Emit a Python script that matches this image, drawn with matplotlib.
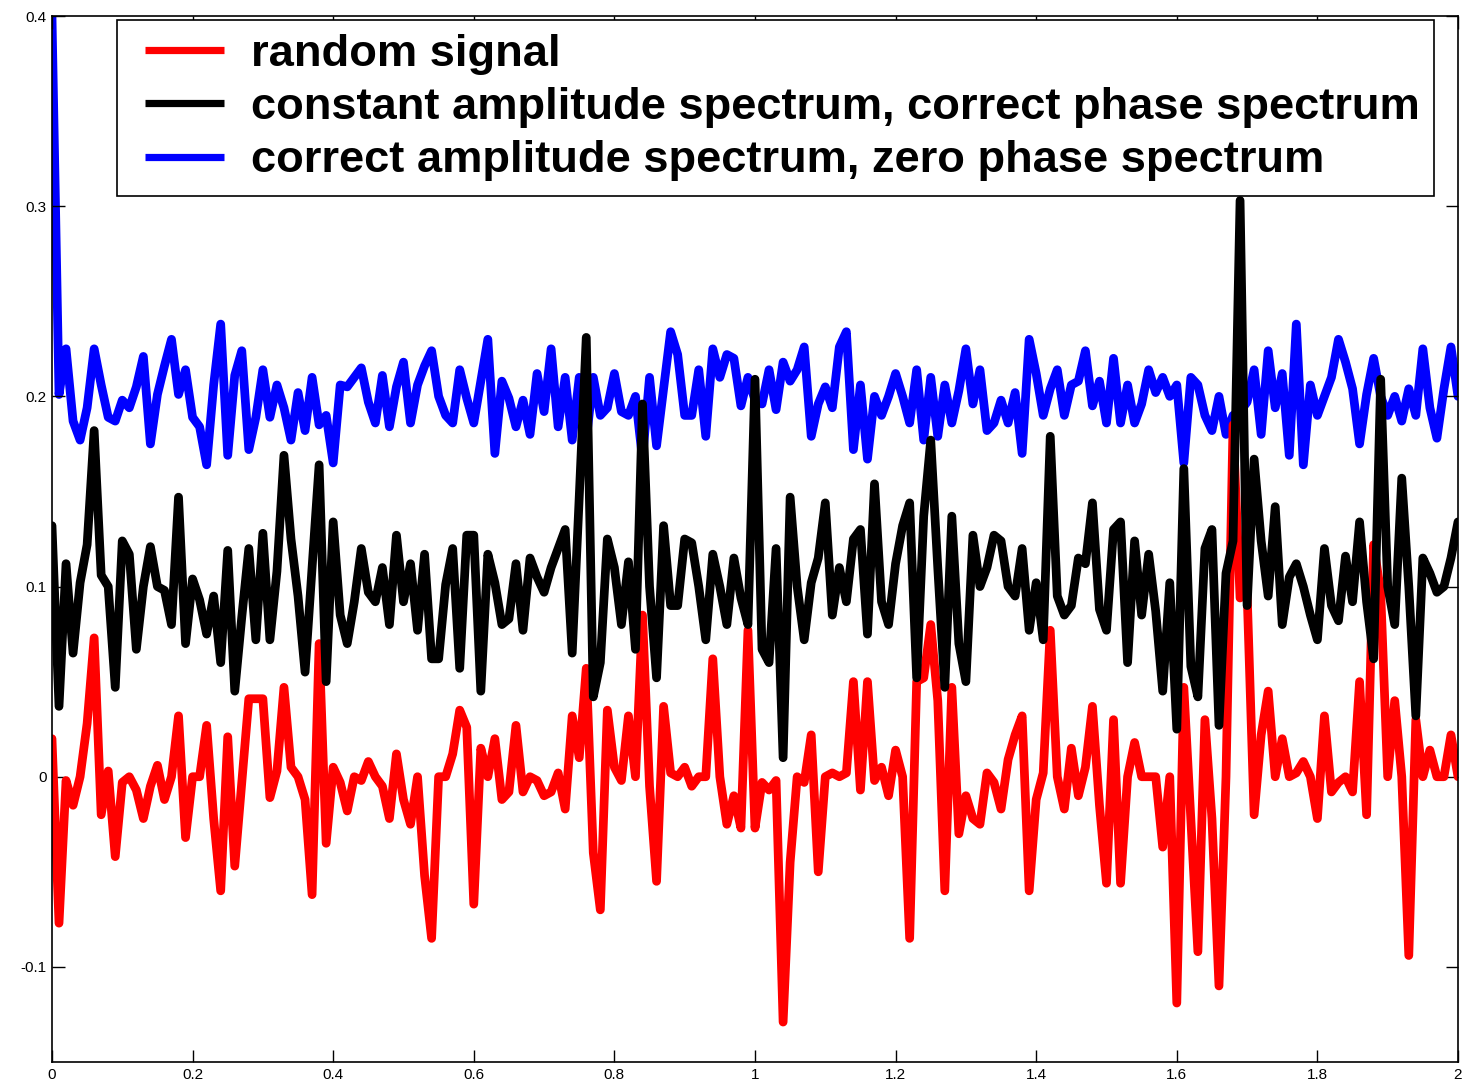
import numpy as np
import matplotlib
matplotlib.use("Agg")
import matplotlib.pyplot as plt
from matplotlib.lines import Line2D
from matplotlib.legend_handler import HandlerLine2D

plt.rcParams['font.family'] = ['Liberation Sans', 'DejaVu Sans']

# values, one sample every 0.01 s from 0 to 2
random_signal = [
    0.02, -0.077, -0.002, -0.015, 0.0, 0.028, 0.073, -0.02, 0.003, -0.042,
    -0.003, 0.0, -0.007, -0.022, -0.005, 0.006, -0.012, 0.0, 0.032, -0.032,
    0.0, 0.0, 0.027, -0.022, -0.06, 0.021, -0.047, -0.003, 0.041, 0.041,
    0.041, -0.011, 0.003, 0.047, 0.005, 0.0, -0.012, -0.062, 0.07, -0.035,
    0.005, -0.003, -0.018, 0.0, -0.002, 0.008, 0.0, -0.005, -0.022, 0.012,
    -0.012, -0.025, 0.0, -0.052, -0.085, 0.0, 0.0, 0.012, 0.035, 0.026,
    -0.067, 0.015, 0.0, 0.02, -0.012, -0.008, 0.027, -0.008, 0.0, -0.002,
    -0.01, -0.008, 0.002, -0.017, 0.032, 0.01, 0.057, -0.04, -0.07, 0.035,
    0.005, -0.002, 0.032, 0.0, 0.085, -0.005, -0.055, 0.037, 0.002, 0.0,
    0.005, -0.005, 0.0, 0.0, 0.062, 0.0, -0.025, -0.01, -0.027, 0.077,
    -0.027, -0.003, -0.007, -0.002, -0.129, -0.045, 0.0, -0.003, 0.022, -0.05,
    0.0, 0.002, 0.0, 0.002, 0.05, -0.007, 0.05, -0.002, 0.005, -0.01,
    0.014, 0.0, -0.085, 0.05, 0.052, 0.08, 0.04, -0.06, 0.047, -0.03,
    -0.01, -0.022, -0.025, 0.002, -0.003, -0.017, 0.009, 0.022, 0.032, -0.06,
    -0.012, 0.002, 0.077, 0.0, -0.017, 0.015, -0.01, 0.005, 0.037, -0.015,
    -0.056, 0.03, -0.056, 0.0, 0.018, 0.0, 0.0, 0.0, -0.037, 0.0,
    -0.119, 0.047, -0.022, -0.092, 0.03, -0.022, -0.11, 0.0, 0.185, 0.094,
    0.097, -0.02, 0.022, 0.045, 0.0, 0.02, 0.0, 0.002, 0.008, 0.0,
    -0.022, 0.032, -0.008, -0.003, 0.0, -0.008, 0.05, -0.02, 0.122, 0.097,
    0.0, 0.04, 0.0, -0.094, 0.03, 0.0, 0.014, 0.0, 0.0, 0.022,
    0.0,
]

const_amp = [
    0.132, 0.037, 0.112, 0.065, 0.102, 0.122, 0.182, 0.106, 0.10, 0.047,
    0.124, 0.117, 0.067, 0.10, 0.121, 0.10, 0.098, 0.080, 0.147, 0.07,
    0.104, 0.093, 0.075, 0.095, 0.060, 0.119, 0.045, 0.084, 0.12, 0.072,
    0.128, 0.072, 0.108, 0.169, 0.125, 0.095, 0.055, 0.11, 0.164, 0.05,
    0.134, 0.085, 0.07, 0.092, 0.12, 0.097, 0.092, 0.11, 0.08, 0.127,
    0.092, 0.112, 0.077, 0.117, 0.062, 0.062, 0.101, 0.12, 0.057, 0.127,
    0.127, 0.045, 0.117, 0.102, 0.08, 0.083, 0.112, 0.077, 0.115, 0.105,
    0.097, 0.11, 0.12, 0.13, 0.065, 0.147, 0.231, 0.042, 0.06, 0.125,
    0.11, 0.08, 0.113, 0.067, 0.196, 0.1, 0.052, 0.132, 0.09, 0.09,
    0.125, 0.123, 0.1, 0.072, 0.117, 0.1, 0.08, 0.115, 0.094, 0.08,
    0.209, 0.067, 0.06, 0.12, 0.01, 0.147, 0.1, 0.072, 0.102, 0.115,
    0.144, 0.085, 0.11, 0.092, 0.125, 0.13, 0.075, 0.154, 0.092, 0.08,
    0.112, 0.132, 0.144, 0.052, 0.137, 0.177, 0.11, 0.047, 0.137, 0.07,
    0.05, 0.127, 0.1, 0.11, 0.127, 0.124, 0.1, 0.095, 0.12, 0.077,
    0.102, 0.072, 0.179, 0.095, 0.085, 0.09, 0.115, 0.112, 0.144, 0.088,
    0.077, 0.13, 0.134, 0.06, 0.124, 0.085, 0.117, 0.087, 0.045, 0.102,
    0.025, 0.162, 0.058, 0.042, 0.12, 0.13, 0.027, 0.107, 0.124, 0.303,
    0.09, 0.167, 0.124, 0.095, 0.142, 0.08, 0.105, 0.112, 0.1, 0.085,
    0.072, 0.12, 0.09, 0.082, 0.116, 0.092, 0.134, 0.092, 0.062, 0.209,
    0.1, 0.08, 0.157, 0.1, 0.032, 0.115, 0.107, 0.097, 0.1, 0.115,
    0.134,
]

zero_phase = [
    0.4, 0.201, 0.225, 0.187, 0.177, 0.194, 0.225, 0.206, 0.189, 0.187,
    0.198, 0.194, 0.205, 0.221, 0.175, 0.201, 0.216, 0.230, 0.201, 0.214,
    0.189, 0.184, 0.164, 0.206, 0.238, 0.169, 0.211, 0.224, 0.172, 0.189,
    0.214, 0.189, 0.206, 0.194, 0.177, 0.202, 0.182, 0.21, 0.185, 0.19,
    0.165, 0.206, 0.205, 0.21, 0.215, 0.197, 0.186, 0.211, 0.184, 0.205,
    0.218, 0.186, 0.206, 0.216, 0.224, 0.20, 0.19, 0.186, 0.214, 0.199,
    0.186, 0.208, 0.23, 0.17, 0.208, 0.199, 0.184, 0.198, 0.18, 0.212,
    0.192, 0.225, 0.184, 0.21, 0.177, 0.21, 0.177, 0.21, 0.19, 0.194,
    0.212, 0.192, 0.19, 0.2, 0.167, 0.21, 0.174, 0.204, 0.234, 0.222,
    0.19, 0.19, 0.214, 0.179, 0.225, 0.21, 0.222, 0.22, 0.195, 0.21,
    0.198, 0.196, 0.214, 0.193, 0.218, 0.208, 0.214, 0.226, 0.179, 0.196,
    0.205, 0.194, 0.226, 0.234, 0.172, 0.206, 0.167, 0.2, 0.19, 0.2,
    0.212, 0.2, 0.186, 0.214, 0.177, 0.21, 0.179, 0.206, 0.186, 0.203,
    0.225, 0.196, 0.214, 0.182, 0.186, 0.198, 0.186, 0.202, 0.17, 0.23,
    0.212, 0.19, 0.204, 0.214, 0.19, 0.206, 0.208, 0.224, 0.195, 0.208,
    0.186, 0.22, 0.186, 0.206, 0.186, 0.196, 0.214, 0.202, 0.21, 0.2,
    0.206, 0.165, 0.21, 0.206, 0.19, 0.182, 0.2, 0.18, 0.19, 0.192,
    0.197, 0.214, 0.18, 0.224, 0.194, 0.212, 0.169, 0.238, 0.164, 0.206,
    0.19, 0.2, 0.21, 0.23, 0.218, 0.204, 0.175, 0.201, 0.22, 0.2,
    0.19, 0.2, 0.187, 0.204, 0.19, 0.225, 0.194, 0.178, 0.204, 0.226,
    0.2,
]

labels = ["random signal",
          "constant amplitude spectrum, correct phase spectrum",
          "correct amplitude spectrum, zero phase spectrum"]

t = np.linspace(0, 2, len(random_signal))

fig = plt.figure(figsize=(14.64, 10.89), dpi=100)
ax = fig.add_axes([0.0355, 0.0248, 0.9604, 0.9605])

lw = 6.3
kw = dict(linewidth=lw, solid_joinstyle='round', solid_capstyle='round')
l3, = ax.plot(np.linspace(0, 2, len(zero_phase)), zero_phase, color='#0000ff', zorder=1, **kw)
l1, = ax.plot(t, random_signal, color='#ff0000', zorder=2, **kw)
l2, = ax.plot(np.linspace(0, 2, len(const_amp)), const_amp, color='black', zorder=3, **kw)

ax.set_xlim(0, 2)
ax.set_ylim(-0.15, 0.4)
ax.set_xticks(np.arange(0, 2.01, 0.2))
ax.set_xticklabels(["0", "0.2", "0.4", "0.6", "0.8", "1", "1.2", "1.4", "1.6", "1.8", "2"])
ax.set_yticks([-0.1, 0, 0.1, 0.2, 0.3, 0.4])
ax.set_yticklabels(["-0.1", "0", "0.1", "0.2", "0.3", "0.4"])
ax.tick_params(direction='in', length=9, width=1, labelsize=11,
               top=True, right=True, pad=4)
for s in ax.spines.values():
    s.set_linewidth(1.2)

leg = ax.legend([l1, l2, l3], labels, loc='upper left',
                bbox_to_anchor=(0.0462, 0.9962), borderaxespad=0,
                prop={'size': 32.6, 'weight': 'bold'}, fancybox=False,
                framealpha=1, edgecolor='black', handlelength=2.05,
                handletextpad=0.6, labelspacing=0.27, borderpad=0.31,
                handler_map={Line2D: HandlerLine2D(xpad=0.3)})
leg.get_frame().set_linewidth(1.2)
for ln in leg.get_lines():
    ln.set_solid_capstyle('butt')
    ln.set_linewidth(5.2)

fig.savefig("out.png", dpi=100)
